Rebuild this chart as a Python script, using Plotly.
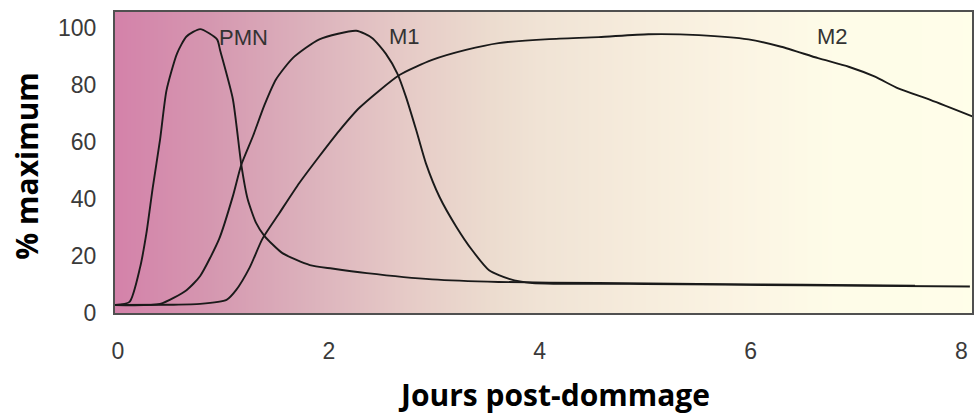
import numpy as np
import plotly.graph_objects as go

# curves (days, % of maximum)
pmn_x = [-0.03, 0.11, 0.21, 0.27, 0.33, 0.40, 0.46, 0.56, 0.65, 0.78, 0.94, 0.97, 1.09, 1.17,
         1.23, 1.31, 1.39, 1.56, 1.82, 2.03, 2.36, 2.98, 3.61, 4.56, 5.5, 6.5, 7.56]
pmn_y = [2.8, 3.9, 16, 28, 44, 61, 78, 91, 97, 99.6, 96, 92, 75, 52,
         40, 31.6, 27, 21, 16.8, 15.6, 14, 11.8, 10.9, 10.5, 10.2, 9.9, 9.6]

m1_x = [-0.03, 0.40, 0.65, 0.78, 0.96, 1.09, 1.17, 1.28, 1.39, 1.50, 1.66, 1.91, 2.26, 2.41, 2.54,
        2.65, 2.73, 2.83, 2.92, 3.05, 3.21, 3.36, 3.52, 3.71, 3.93, 5.0, 6.5, 8.08]
m1_y = [2.8, 3.2, 8, 13, 26, 41, 52, 62, 73, 82, 89.5, 96, 99, 96.5, 91,
        84, 76, 64, 52.6, 40.7, 30.2, 22, 15, 12, 10.5, 10.2, 9.7, 9.3]

m2_x = [-0.03, 0.5, 0.78, 1.03, 1.12, 1.25, 1.37, 1.53, 1.72, 1.91, 2.1, 2.29, 2.67, 2.98, 3.3,
        3.61, 4.09, 4.56, 5.03, 5.51, 5.98, 6.29, 6.64, 6.93, 7.18, 7.4, 7.71, 8.11]
m2_y = [2.8, 2.9, 3.2, 4.6, 8, 16, 26, 35, 45.6, 55, 64, 72, 83.5, 88.8, 92.3,
        94.7, 96.1, 96.8, 97.8, 97.5, 96, 93.4, 89.4, 86.4, 82.9, 78.8, 74.7, 68.9]

labels = ["PMN", "M1", "M2"]
label_x = [1.19, 2.72, 6.78]
label_y = [96.5, 97, 97]

x_ticks = [0, 2, 4, 6, 8]
y_ticks = [0, 20, 40, 60, 80, 100]

# background gradient stops (days -> colour)
bg_x = [-0.3, 0.02, 0.87, 1.82, 2.76, 3.55, 3.99, 4.94, 5.88, 6.83, 8.4]
bg_col = ["#d27ea8", "#d483aa", "#d597b0", "#dcb2bc", "#e6cbc7", "#ecdccf",
          "#f0e3d5", "#f6ecdc", "#fbf4e3", "#fefce8", "#fffee9"]

lo, hi = bg_x[0], bg_x[-1]
scale = [[(v - lo) / (hi - lo), c] for v, c in zip(bg_x, bg_col)]
grid = np.linspace(lo, hi, 200)

fig = go.Figure()
fig.add_trace(go.Heatmap(x=grid, y=[-10, 120], z=[grid, grid], colorscale=scale,
                         zmin=lo, zmax=hi, zsmooth="best", showscale=False,
                         hoverinfo="skip"))

for xs, ys in [(pmn_x, pmn_y), (m1_x, m1_y), (m2_x, m2_y)]:
    fig.add_trace(go.Scatter(x=xs, y=ys, mode="lines",
                             line=dict(color="#1a1a1a", width=1.9, shape="spline", smoothing=0.6),
                             showlegend=False))

for t, lx, ly in zip(labels, label_x, label_y):
    fig.add_annotation(x=lx, y=ly, text=t, showarrow=False,
                       font=dict(family="Liberation Sans", size=22, color="#333333"))

fig.add_annotation(xref="paper", yref="paper", x=0.512, y=-0.272, text="<b>Jours post-dommage</b>",
                   showarrow=False, xanchor="center", yanchor="middle",
                   font=dict(family="Open Sans", size=30, color="#000000"))
fig.add_annotation(xref="paper", yref="paper", x=-0.1036, y=0.49, text="<b>% maximum</b>",
                   showarrow=False, textangle=-90, xanchor="center", yanchor="middle",
                   font=dict(family="Open Sans", size=30, color="#000000"))

axis_font = dict(family="Liberation Sans", size=23, color="#3a3a3a")
fig.update_layout(
    width=976, height=414,
    margin=dict(l=115, r=2, t=12, b=101),
    paper_bgcolor="white",
    plot_bgcolor="white",
    xaxis=dict(range=[-0.028, 8.1], tickvals=x_ticks, showgrid=False, zeroline=False,
               showline=True, mirror=True, linecolor="#505050", linewidth=2,
               ticks="", tickfont=axis_font, ticklabelstandoff=16),
    yaxis=dict(range=[0, 105.6], tickvals=y_ticks, showgrid=False, zeroline=False,
               showline=True, mirror=True, linecolor="#505050", linewidth=2,
               ticks="", tickfont=axis_font, ticklabelstandoff=12),
)

fig.write_html("out.html", config={"displayModeBar": False},
               post_script="document.body.style.margin='0';")
